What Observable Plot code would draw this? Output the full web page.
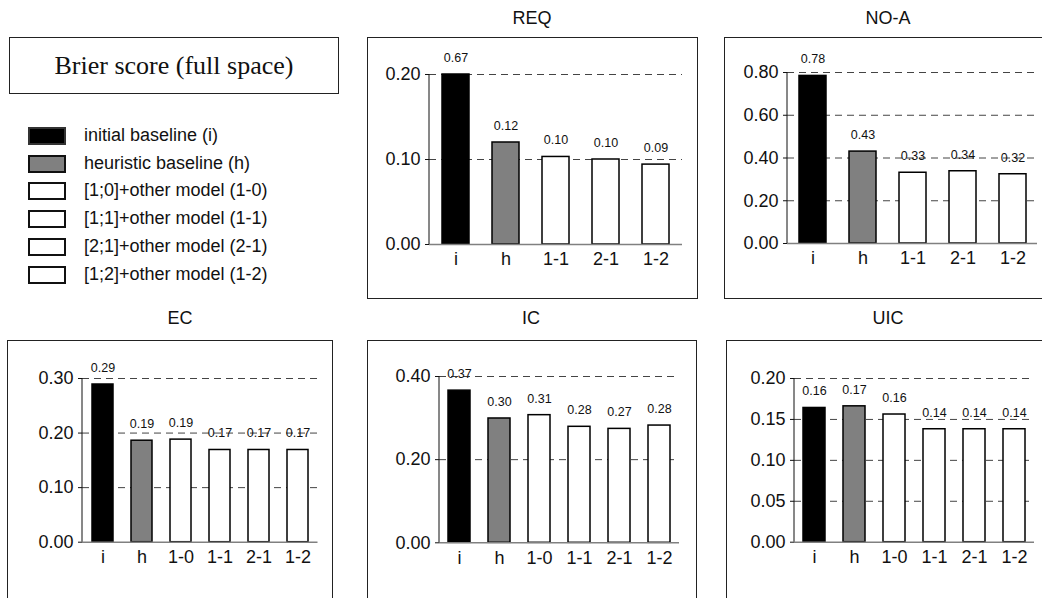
<!DOCTYPE html>
<html>
<head>
<meta charset="utf-8">
<script src="https://cdn.jsdelivr.net/npm/d3@7"></script>
<script src="https://cdn.jsdelivr.net/npm/@observablehq/plot@0.6"></script>
<style>
  html, body { margin: 0; padding: 0; background: #fff; }
  #page { position: relative; width: 1042px; height: 598px; overflow: hidden; background: #fff;
          font-family: "Liberation Sans", Arial, sans-serif; color: #111; }
  .box { position: absolute; border: 1.5px solid #222; box-sizing: border-box; }
  .ptitle { position: absolute; font-size: 18px; transform: translate(-50%, -50%); white-space: nowrap; }
  .panel { position: absolute; }
  #titlebox { display: flex; align-items: center; justify-content: center;
              font-family: "Liberation Serif", "Times New Roman", serif; font-size: 26px; }
  .legitem { position: absolute; left: 28px; height: 18px; display: flex; align-items: center; }
  .sw { width: 38px; height: 18px; box-sizing: border-box; border: 2px solid #111; }
  .legtext { position: absolute; left: 56px; font-size: 18px; white-space: nowrap; top: 50%; transform: translateY(-52%); }
</style>
</head>
<body>
<div id="page"></div>
<script>
// ---------- data ----------
const chartTitle = "Brier score (full space)";
const legendKeys = ["i", "h", "1-0", "1-1", "2-1", "1-2"];
const legendLabels = [
  "initial baseline (i)",
  "heuristic baseline (h)",
  "[1;0]+other model (1-0)",
  "[1;1]+other model (1-1)",
  "[2;1]+other model (2-1)",
  "[1;2]+other model (1-2)"
];
const panelNames = ["REQ", "NO-A", "EC", "IC", "UIC"];
const cats5 = ["i", "h", "1-1", "2-1", "1-2"];
const cats6 = ["i", "h", "1-0", "1-1", "2-1", "1-2"];
const reqValues = [0.67, 0.120, 0.103, 0.100, 0.094];
const noaValues = [0.784, 0.43, 0.331, 0.338, 0.324];
const ecValues  = [0.289, 0.186, 0.188, 0.169, 0.169, 0.169];
const icValues  = [0.366, 0.299, 0.307, 0.279, 0.274, 0.282];
const uicValues = [0.164, 0.166, 0.156, 0.138, 0.138, 0.138];
const reqTicks = [0, 0.1, 0.2];
const noaTicks = [0, 0.2, 0.4, 0.6, 0.8];
const ecTicks  = [0, 0.1, 0.2, 0.3];
const icTicks  = [0, 0.2, 0.4];
const uicTicks = [0, 0.05, 0.1, 0.15, 0.2];

// ---------- styling ----------
const fillRange = ["#000000", "#808080", "#ffffff", "#ffffff", "#ffffff", "#ffffff"];
const fmt = d3.format(".2f");
const page = document.getElementById("page");

function addDiv(cls, css, html) {
  const d = document.createElement("div");
  d.className = cls;
  Object.assign(d.style, css);
  if (html != null) d.textContent = html;
  page.appendChild(d);
  return d;
}

// title box + legend
const tb = addDiv("box", {left: "9px", top: "37px", width: "330px", height: "57px"}, chartTitle);
tb.id = "titlebox";
legendLabels.forEach((lab, i) => {
  const item = addDiv("legitem", {top: (127 + i * 27.7) + "px"});
  const sw = document.createElement("div");
  sw.className = "sw";
  sw.style.background = fillRange[i];
  if (i === 0) sw.style.borderColor = "#333";
  item.appendChild(sw);
  const t = document.createElement("div");
  t.className = "legtext";
  t.textContent = lab;
  item.appendChild(t);
});

// layout of panels (box frame, svg placement, margins)
const layouts = [
  {box: [367, 37, 331, 262], title: [532, 18], svg: [368, 38, 329, 260], m: [61, 15, 36, 54]},
  {box: [724, 37, 340, 262], title: [888, 18], svg: [725, 38, 330, 260], m: [62, 18, 34, 55]},
  {box: [7, 340, 326, 270],  title: [180, 318], svg: [8, 341, 324, 257], m: [74, 14.5, 37, 56.3]},
  {box: [367, 340, 330, 270], title: [531, 318], svg: [368, 341, 328, 257], m: [71, 17, 35, 55.7]},
  {box: [726, 340, 340, 270], title: [888, 318], svg: [727, 341, 330, 257], m: [67, 23, 37, 56.3]}
];
const series = [
  {cats: cats5, values: reqValues, ticks: reqTicks},
  {cats: cats5, values: noaValues, ticks: noaTicks},
  {cats: cats6, values: ecValues,  ticks: ecTicks},
  {cats: cats6, values: icValues,  ticks: icTicks},
  {cats: cats6, values: uicValues, ticks: uicTicks}
];

series.forEach((s, k) => {
  const L = layouts[k];
  addDiv("box", {left: L.box[0] + "px", top: L.box[1] + "px", width: L.box[2] + "px", height: L.box[3] + "px"});
  addDiv("ptitle", {left: L.title[0] + "px", top: L.title[1] + "px"}, panelNames[k]);

  const max = d3.max(s.ticks);
  const data = s.cats.map((c, i) => ({cat: c, value: s.values[i]}));
  const capped = d => Math.min(d.value, max);

  const yAxisLine = (index, scales, values, dims) => {
    const x = dims.marginLeft;
    const g = d3.create("svg:line")
      .attr("x1", x).attr("x2", x)
      .attr("y1", scales.y(0)).attr("y2", scales.y(max))
      .attr("stroke", "#111").attr("stroke-width", 1);
    return g.node();
  };

  const chart = Plot.plot({
    width: L.svg[2],
    height: L.svg[3],
    marginLeft: L.m[0], marginRight: L.m[1], marginTop: L.m[2], marginBottom: L.m[3],
    style: {fontFamily: '"Liberation Sans", Arial, sans-serif', fontSize: "18px", color: "#111",
            background: "transparent", overflow: "visible"},
    x: {domain: s.cats, paddingInner: 0.46, paddingOuter: 0.23, tickSize: 0, tickPadding: 8, label: null},
    y: {domain: [0, max], ticks: s.ticks, tickFormat: fmt, tickSize: 4, tickPadding: 5, label: null},
    color: {domain: legendKeys, range: fillRange},
    marks: [
      Plot.ruleY(s.ticks.filter(t => t > 0), {stroke: "#444", strokeWidth: 1, strokeDasharray: "7,5"}),
      Plot.barY(data, {x: "cat", y: capped, fill: "cat", stroke: "#000", strokeWidth: 1.5}),
      Plot.ruleY([0], {stroke: "#808080", strokeWidth: 1.5}),
      yAxisLine,
      Plot.text(data, {x: "cat", y: capped, text: d => fmt(d.value), dy: -16.5, fontSize: 12.5, fill: "#111"})
    ]
  });
  chart.classList.add("panel");
  chart.style.left = L.svg[0] + "px";
  chart.style.top = L.svg[1] + "px";
  page.appendChild(chart);
});
</script>
</body>
</html>
